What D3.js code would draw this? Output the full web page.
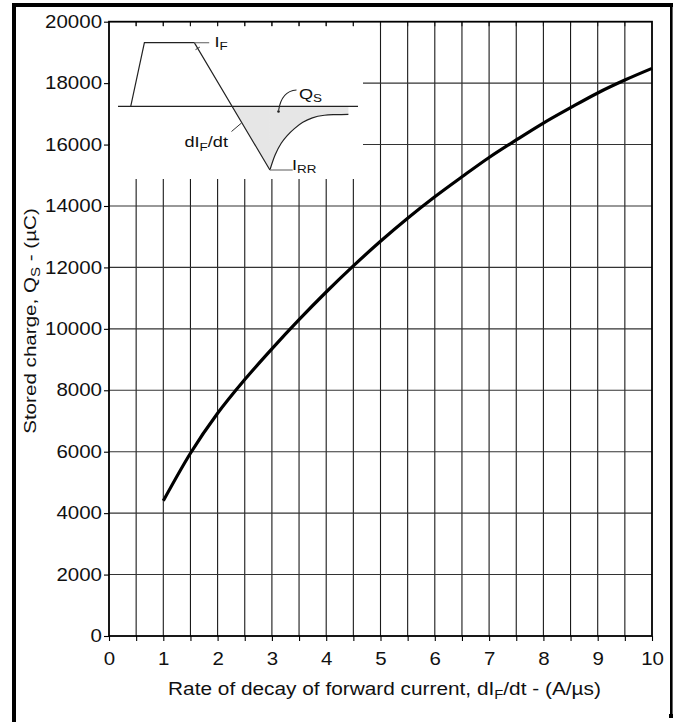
<!DOCTYPE html>
<html>
<head>
<meta charset="utf-8">
<script src="https://cdn.jsdelivr.net/npm/d3@7"></script>
<style>
  html, body { margin: 0; padding: 0; background: #fff; }
  svg { display: block; }
  text { font-family: "Liberation Sans", Arial, Helvetica, sans-serif; fill: #111; }
</style>
</head>
<body>
<svg id="chart" width="677" height="722"></svg>
<script>
// Stored charge vs. rate of decay of forward current
const rateValues = [1, 1.5, 2, 2.5, 3, 3.5, 4, 4.5, 5, 5.5, 6, 6.5, 7, 7.5, 8, 8.5, 9, 9.5, 10];
const chargeValues = [4400, 5950, 7250, 8350, 9350, 10300, 11200, 12050, 12850, 13600, 14300,
                      14950, 15580, 16150, 16700, 17200, 17680, 18100, 18480];
const xTickValues = d3.range(0, 10.01, 0.5);
const xTickLabels = ["0", "1", "2", "3", "4", "5", "6", "7", "8", "9", "10"];
const yTickValues = [0, 2000, 4000, 6000, 8000, 10000, 12000, 14000, 16000, 18000, 20000];

// Schematic of the reverse-recovery waveform (time units 0..100, current -1..1)
const waveTime = [5.3, 11, 31.8, 63.3];
const waveCurrent = [0, 1, 1, -1];
const recoveryTime = [63.3, 65.5, 68, 70.5, 73.5, 77, 81, 86, 91, 96];
const recoveryCurrent = [-1, -0.76, -0.58, -0.46, -0.35, -0.25, -0.18, -0.14, -0.13, -0.125];

const svg = d3.select("#chart");
const WIDE = 1.17; // horizontal widening of the lettering

// widen text horizontally about its own anchor point
function widen(sel, k, pre) {
  sel.each(function () {
    const el = d3.select(this);
    const ax = +el.attr("x") || 0, ay = +el.attr("y") || 0;
    el.attr("transform", `${pre || ""} translate(${ax},${ay}) scale(${k},1) translate(${-ax},${-ay})`);
  });
}

const plot = { left: 109, right: 652, top: 21.7, bottom: 636 };
const x = d3.scaleLinear().domain([0, 10]).range([plot.left, plot.right]);
const y = d3.scaleLinear().domain([0, 20000]).range([plot.bottom, plot.top]);

// Outer frame (left, top, right edges)
svg.append("rect").attr("x", 12).attr("y", 3).attr("width", 4).attr("height", 719).attr("fill", "#000");
svg.append("rect").attr("x", 12).attr("y", 3).attr("width", 661).attr("height", 4).attr("fill", "#000");
svg.append("rect").attr("x", 670).attr("y", 3).attr("width", 2.6).attr("height", 715).attr("fill", "#000");
svg.append("rect").attr("x", 669).attr("y", 714).attr("width", 4).attr("height", 4).attr("fill", "#000");

// Grid
const grid = svg.append("g").attr("stroke", "#1a1a1a").attr("stroke-width", 1.1);
xTickValues.filter(v => v > 0 && v < 10).forEach(v => {
  grid.append("line").attr("x1", x(v)).attr("x2", x(v)).attr("y1", y(0)).attr("y2", y(20000));
});
yTickValues.filter(v => v > 0 && v < 20000).forEach(v => {
  grid.append("line").attr("x1", x(0)).attr("x2", x(10)).attr("y1", y(v)).attr("y2", y(v))
    .attr("stroke", "#333");
});

// Inset panel masks the grid in the upper-left corner
const insetBox = { left: x(0) + 1, right: 363, top: 26, bottom: 179 };
svg.append("rect")
  .attr("x", insetBox.left).attr("y", insetBox.top)
  .attr("width", insetBox.right - insetBox.left).attr("height", insetBox.bottom - insetBox.top)
  .attr("fill", "#fff");

// Short ticks hanging from the top edge
const topTicks = svg.append("g").attr("stroke", "#1a1a1a").attr("stroke-width", 1.1);
xTickValues.filter(v => v > 0 && v < 10).forEach(v => {
  topTicks.append("line").attr("x1", x(v)).attr("x2", x(v)).attr("y1", y(20000)).attr("y2", y(20000) + 4.5);
});

// Plot border
svg.append("rect")
  .attr("x", plot.left).attr("y", plot.top)
  .attr("width", plot.right - plot.left).attr("height", plot.bottom - plot.top)
  .attr("fill", "none").attr("stroke", "#000").attr("stroke-width", 1.8);

// Axes
const yAxis = d3.axisLeft(y).tickValues(yTickValues).tickSize(5).tickPadding(2).tickFormat(d3.format("d"));
const gy = svg.append("g").attr("transform", `translate(${plot.left},0)`).call(yAxis);
gy.select(".domain").remove();
gy.selectAll(".tick line").attr("stroke", "#000").attr("stroke-width", 1.1);
gy.selectAll(".tick text").attr("font-size", 17.5).attr("fill", "#111")
  .style("font-family", "'Liberation Sans', Arial, sans-serif");
widen(gy.selectAll(".tick text"), WIDE);

const xAxis = d3.axisBottom(x).tickValues(xTickValues).tickSize(5).tickPadding(11.5)
  .tickFormat(d => Number.isInteger(d) ? xTickLabels[d] : "");
const gx = svg.append("g").attr("transform", `translate(0,${plot.bottom})`).call(xAxis);
gx.select(".domain").remove();
gx.selectAll(".tick line").attr("stroke", "#000").attr("stroke-width", 1.1);
gx.selectAll(".tick text").attr("font-size", 17.5).attr("fill", "#111")
  .style("font-family", "'Liberation Sans', Arial, sans-serif");
widen(gx.selectAll(".tick text"), WIDE);

// Curve
const line = d3.line().x(d => x(d[0])).y(d => y(d[1])).curve(d3.curveMonotoneX);
svg.append("path")
  .datum(rateValues.map((r, i) => [r, chargeValues[i]]))
  .attr("d", line)
  .attr("fill", "none").attr("stroke", "#000").attr("stroke-width", 3.2)
  .attr("stroke-linecap", "butt");

// Axis titles
const xTitle = svg.append("text")
  .attr("x", 384.5).attr("y", 695)
  .attr("text-anchor", "middle").attr("font-size", 17.5);
xTitle.append("tspan").text("Rate of decay of forward current, dI");
xTitle.append("tspan").attr("font-size", 12.5).attr("dy", 4).text("F");
xTitle.append("tspan").attr("dy", -4).text("/dt - (A/µs)");
widen(xTitle, 1.19);

const yTitle = svg.append("text")
  .attr("x", -321).attr("y", 36.5)
  .attr("text-anchor", "middle").attr("font-size", 16.5);
yTitle.append("tspan").text("Stored charge, Q");
yTitle.append("tspan").attr("font-size", 12).attr("dy", 3.5).text("S");
yTitle.append("tspan").attr("dy", -3.5).text(" - (µC)");
widen(yTitle, 1.25, "rotate(-90)");

// ---- Inset schematic ----
const ix = d3.scaleLinear().domain([0, 100]).range([118, 358]);
const iy = d3.scaleLinear().domain([-1, 1]).range([170, 42.7]);
const inset = svg.append("g");

// shaded stored charge
const crossT = 31.8 + (63.3 - 31.8) * 0.5;
inset.append("path")
  .attr("d", d3.line()([[ix(crossT), iy(0)], [ix(63.3), iy(-1)], [ix(63.3), iy(0)]]) + "Z")
  .attr("fill", "#e6e6e6").attr("stroke", "#e6e6e6").attr("stroke-width", 0.6);
inset.append("path")
  .datum(recoveryTime.map((t, i) => [t, recoveryCurrent[i]]))
  .attr("d", d3.area().x(d => ix(d[0])).y0(iy(0)).y1(d => iy(d[1])).curve(d3.curveCatmullRom))
  .attr("fill", "#e6e6e6");

// zero line
inset.append("line").attr("x1", ix(0)).attr("x2", ix(100)).attr("y1", iy(0)).attr("y2", iy(0))
  .attr("stroke", "#222").attr("stroke-width", 1.1);

// waveform
inset.append("path")
  .datum(waveTime.map((t, i) => [t, waveCurrent[i]]))
  .attr("d", d3.line().x(d => ix(d[0])).y(d => iy(d[1])))
  .attr("fill", "none").attr("stroke", "#222").attr("stroke-width", 1.2);
inset.append("path")
  .datum(recoveryTime.map((t, i) => [t, recoveryCurrent[i]]))
  .attr("d", d3.line().x(d => ix(d[0])).y(d => iy(d[1])).curve(d3.curveCatmullRom))
  .attr("fill", "none").attr("stroke", "#222").attr("stroke-width", 1.2);

// leader lines
inset.append("line").attr("x1", ix(31.8)).attr("x2", ix(38)).attr("y1", iy(1)).attr("y2", iy(1))
  .attr("stroke", "#777").attr("stroke-width", 1.2);
inset.append("line").attr("x1", ix(63.3)).attr("x2", ix(72.8)).attr("y1", iy(-1)).attr("y2", iy(-1))
  .attr("stroke", "#888").attr("stroke-width", 1.4);
// small mark on the falling edge
{
  const t0 = 33.2, dx = ix(63.3) - ix(31.8), dy = iy(-1) - iy(1), len = Math.hypot(dx, dy);
  const px = ix(t0), py = iy(1) + (ix(t0) - ix(31.8)) * dy / dx;
  const nx = -dy / len * 2.5, ny = dx / len * 2.5;
  inset.append("line").attr("x1", px - nx).attr("x2", px + nx).attr("y1", py - ny).attr("y2", py + ny)
    .attr("stroke", "#333").attr("stroke-width", 1);
}
inset.append("line").attr("x1", 231.5).attr("y1", 131.5).attr("x2", 241.5).attr("y2", 123)
  .attr("stroke", "#333").attr("stroke-width", 1);
inset.append("path").attr("d", "M296.5,90 Q281.5,91 278.6,110.5")
  .attr("fill", "none").attr("stroke", "#222").attr("stroke-width", 1.1);
inset.append("circle").attr("cx", 278.5).attr("cy", 111.5).attr("r", 1.3).attr("fill", "#222");

// inset labels
function subLabel(xp, yp, main, sub, rest) {
  const t = inset.append("text").attr("x", xp).attr("y", yp).attr("font-size", 15.5);
  t.append("tspan").text(main);
  t.append("tspan").attr("font-size", 11.5).attr("dy", 3.5).text(sub);
  if (rest) t.append("tspan").attr("dy", -3.5).text(rest);
  widen(t, WIDE);
}
subLabel(214.5, 47, "I", "F");
subLabel(299, 99, "Q", "S");
subLabel(184.5, 147.5, "dI", "F", "/dt");
subLabel(292, 170, "I", "RR");
</script>
</body>
</html>
